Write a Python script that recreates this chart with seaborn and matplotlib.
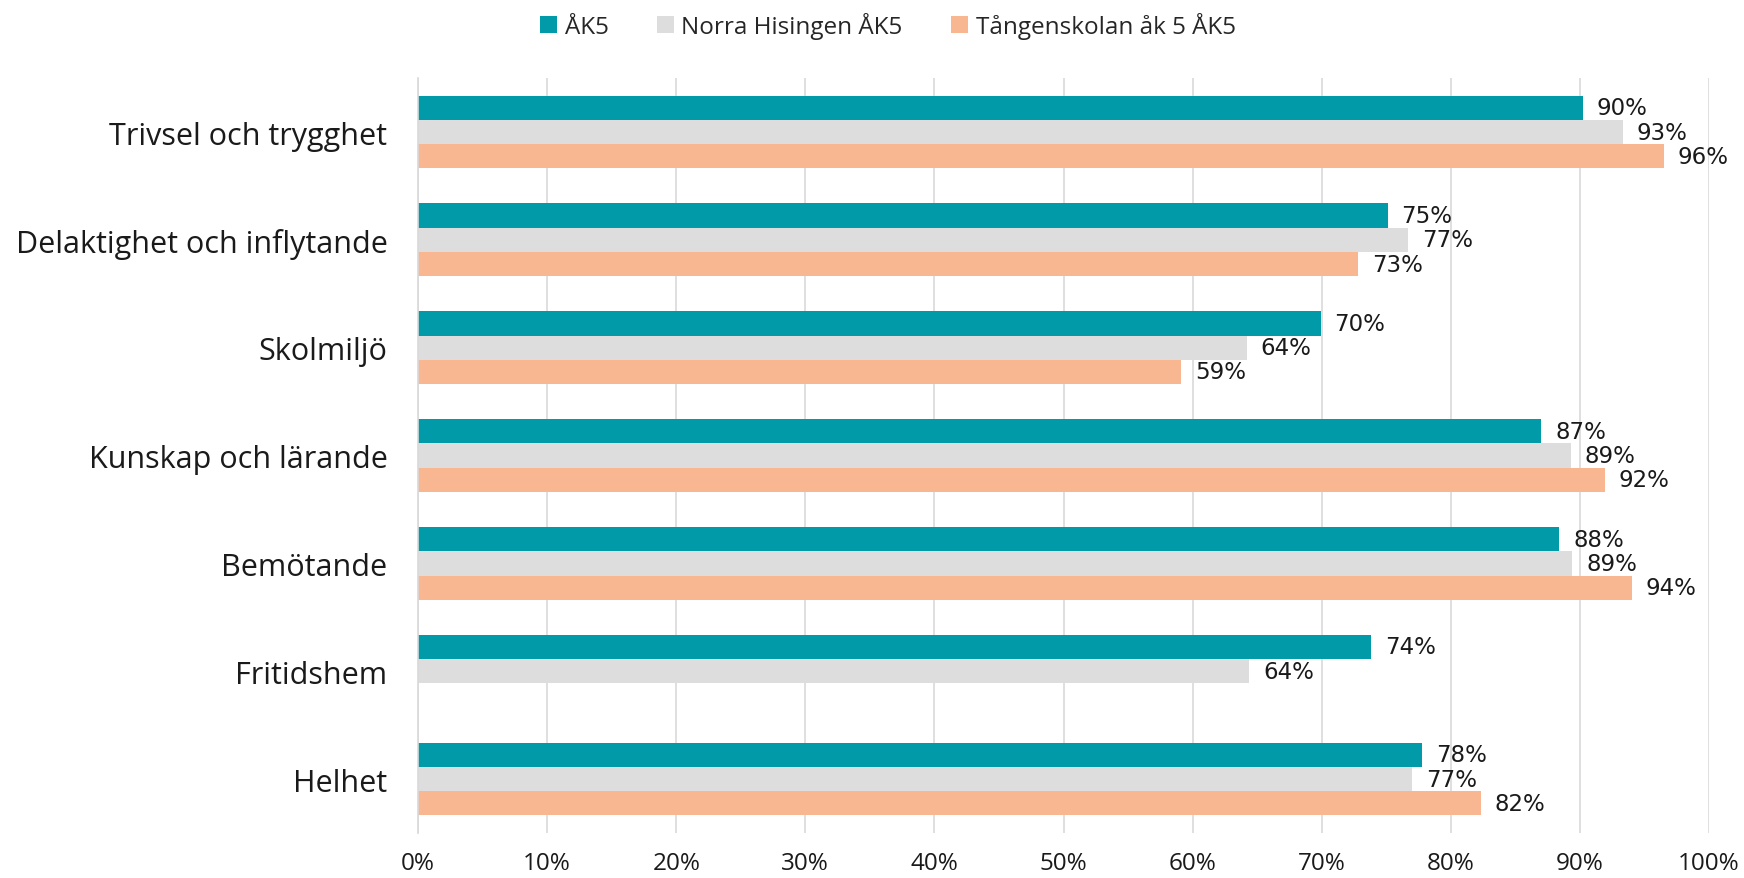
import numpy as np
import pandas as pd
import seaborn as sns
import matplotlib.pyplot as plt

categories = ["Trivsel och trygghet", "Delaktighet och inflytande", "Skolmiljö",
              "Kunskap och lärande", "Bemötande", "Fritidshem", "Helhet"]
series = ["ÅK5", "Norra Hisingen ÅK5", "Tångenskolan åk 5 ÅK5"]
ak5 = [90.2, 75.1, 69.9, 87.0, 88.4, 73.8, 77.8]
norra = [93.3, 76.7, 64.2, 89.3, 89.4, 64.4, 77.0]
tangen = [96.5, 72.8, 59.1, 91.9, 94.0, np.nan, 82.3]
colors = ["#009AA9", "#DDDDDD", "#F8B691"]

data = pd.DataFrame({"Kategori": categories * 3,
                     "Serie": np.repeat(series, len(categories)),
                     "Andel": ak5 + norra + tangen})

sns.set_style("white")
plt.rcParams["font.family"] = ["Open Sans", "DejaVu Sans"]

fig = plt.figure(figsize=(17.44, 8.79), dpi=100)
ax = fig.add_axes([0.2397, 0.0512, 0.98 - 0.2397, 0.910 - 0.0512])

sns.barplot(data=data, y="Kategori", x="Andel", hue="Serie", order=categories,
            hue_order=series, palette=colors, width=0.675, orient="h",
            saturation=1, linewidth=0, ax=ax, zorder=2)

#Value labels next to each bar
for cont in ax.containers:
    labels = ["" if np.isnan(v) else "{:.0f}%".format(v) for v in cont.datavalues]
    ax.bar_label(cont, labels=labels, padding=10, fontsize=16.5,
                 family="DejaVu Sans", color="#1a1a1a")

ax.set_xlim(0, 100)
ax.set_ylim(6.5, -0.5)
ax.set_xticks(np.arange(0, 101, 10))
ax.set_xticklabels(["{}%".format(t) for t in range(0, 101, 10)], fontsize=17.5)
ax.tick_params(axis="x", length=0, pad=13, colors="#1a1a1a")
ax.tick_params(axis="y", which="major", length=0, pad=22, labelsize=22,
               colors="#1a1a1a")
ax.set_yticks(np.arange(-0.5, 7, 1), minor=True)
ax.tick_params(axis="y", which="minor", length=10, color="#D9D9D9", width=1.2)
ax.grid(axis="x", color="#D9D9D9", linewidth=1.2, zorder=0)
ax.set_axisbelow(True)
ax.set_xlabel("")
ax.set_ylabel("")
for s in ["top", "right", "bottom"]:
    ax.spines[s].set_visible(False)
ax.spines["left"].set_color("#D9D9D9")
ax.spines["left"].set_linewidth(1.2)

ax.legend(loc="upper center", bbox_to_anchor=(0.364, 1.117), ncol=3, frameon=False,
          fontsize=17.5, handlelength=0.7, handleheight=0.7, handletextpad=0.3,
          columnspacing=2.0)

plt.savefig("out.png", dpi=100)
